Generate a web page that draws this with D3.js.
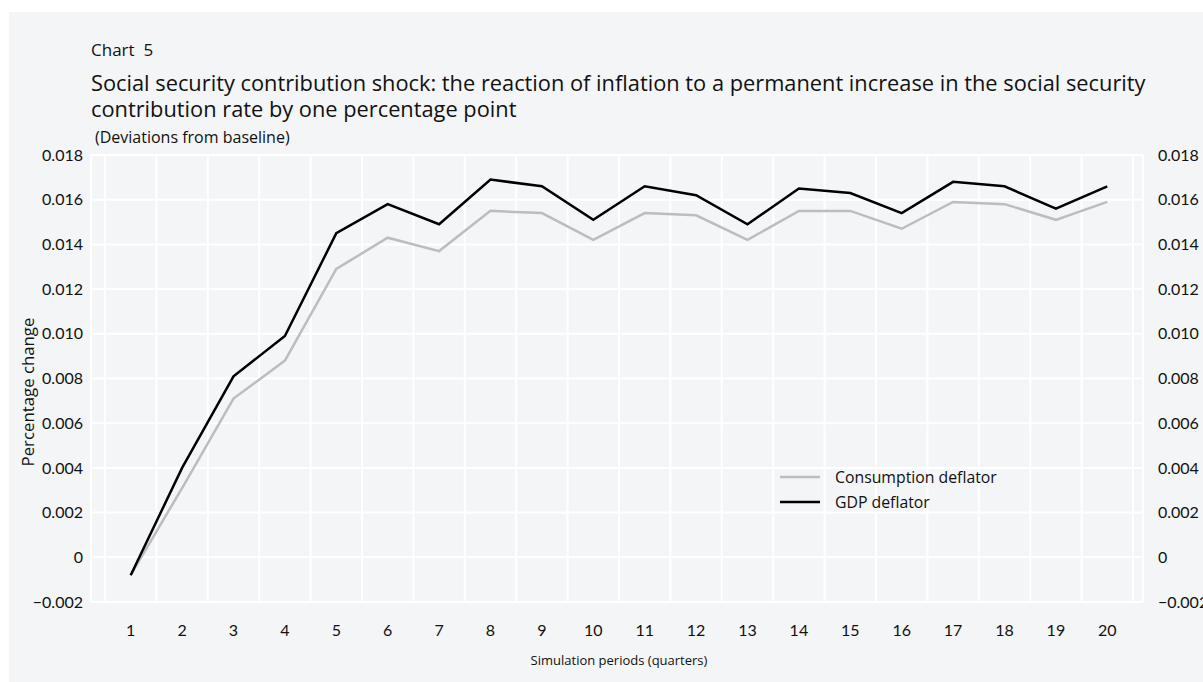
<!DOCTYPE html>
<html>
<head>
<meta charset="utf-8">
<script src="https://cdn.jsdelivr.net/npm/d3@7"></script>
<style>
  body { margin: 0; background: #fff; }
  svg text { font-family: "Open Sans", Lato, sans-serif; fill: #111; font-variant-ligatures: none; }
  svg text.num { font-family: Lato, "Open Sans", sans-serif; }
</style>
</head>
<body>
<svg id="chart" width="1203" height="682"></svg>
<script>
// periods on the x axis
var periods = d3.range(1, 21);
// values
var consumption = [-0.0008, 0.0031, 0.0071, 0.0088, 0.0129, 0.0143, 0.0137, 0.0155, 0.0154, 0.0142,
                   0.0154, 0.0153, 0.0142, 0.0155, 0.0155, 0.0147, 0.0159, 0.0158, 0.0151, 0.0159];
var gdp = [-0.0008, 0.0040, 0.0081, 0.0099, 0.0145, 0.0158, 0.0149, 0.0169, 0.0166, 0.0151,
           0.0166, 0.0162, 0.0149, 0.0165, 0.0163, 0.0154, 0.0168, 0.0166, 0.0156, 0.0166];
var yTicks = [-0.002, 0, 0.002, 0.004, 0.006, 0.008, 0.010, 0.012, 0.014, 0.016, 0.018];
var series = [
    { name: 'Consumption deflator', values: consumption, color: '#bdbdbd' },
    { name: 'GDP deflator', values: gdp, color: '#000' }
];

var svg = d3.select('#chart');

// background panel
svg.append('rect')
    .attr('x', 9).attr('y', 12)
    .attr('width', 1203 - 9).attr('height', 682 - 12)
    .attr('fill', '#f4f5f7');

var plot = { left: 91, right: 1143, top: 155, bottom: 602 };

var x = d3.scaleBand()
    .domain(periods)
    .range([105, 1133]);

var y = d3.scaleLinear()
    .domain([-0.002, 0.018])
    .range([plot.bottom, plot.top]);

var tickFmt = function (d) {
    if (d === 0) return '0';
    return d3.format('.3f')(d).replace('-', '\u2212');
};

// grid
var grid = svg.append('g').attr('stroke', '#fff').attr('stroke-width', 2);
grid.selectAll('line.h')
    .data(yTicks)
    .enter().append('line')
    .attr('x1', plot.left).attr('x2', plot.right)
    .attr('y1', function (d) { return y(d); })
    .attr('y2', function (d) { return y(d); });

var vlines = [plot.left].concat(periods.map(function (p) { return x(p); }), [x(20) + x.bandwidth(), plot.right]);
grid.selectAll('line.v')
    .data(vlines)
    .enter().append('line')
    .attr('x1', function (d) { return d; }).attr('x2', function (d) { return d; })
    .attr('y1', plot.top).attr('y2', plot.bottom);

// y labels, left and right
var yl = svg.append('g').attr('font-size', 16);
yl.selectAll('text.l')
    .data(yTicks)
    .enter().append('text')
    .attr('class', 'num')
    .attr('x', 83)
    .attr('y', function (d) { return y(d); })
    .attr('dy', '0.35em')
    .attr('text-anchor', 'end')
    .text(tickFmt);
yl.selectAll('text.r')
    .data(yTicks)
    .enter().append('text')
    .attr('class', 'num')
    .attr('x', 1158)
    .attr('y', function (d) { return y(d); })
    .attr('dy', '0.35em')
    .text(tickFmt);

// x labels
svg.append('g').attr('font-size', 16)
    .selectAll('text')
    .data(periods)
    .enter().append('text')
    .attr('class', 'num')
    .attr('x', function (d) { return x(d) + x.bandwidth() / 2; })
    .attr('y', 636)
    .attr('text-anchor', 'middle')
    .text(function (d) { return d; });

// lines
var line = d3.line()
    .x(function (d, i) { return x(periods[i]) + x.bandwidth() / 2; })
    .y(function (d) { return y(d); });

svg.selectAll('path.series')
    .data(series)
    .enter().append('path')
    .attr('fill', 'none')
    .attr('stroke', function (d) { return d.color; })
    .attr('stroke-width', 2.5)
    .attr('stroke-linejoin', 'miter')
    .attr('d', function (d) { return line(d.values); });

// legend
var lg = svg.append('g').attr('transform', 'translate(780,477)');
lg.selectAll('line')
    .data(series)
    .enter().append('line')
    .attr('x1', 0).attr('x2', 40)
    .attr('y1', function (d, i) { return i * 25; })
    .attr('y2', function (d, i) { return i * 25; })
    .attr('stroke', function (d) { return d.color; })
    .attr('stroke-width', 2.5);
lg.selectAll('text')
    .data(series)
    .enter().append('text')
    .attr('x', 55)
    .attr('y', function (d, i) { return i * 25; })
    .attr('dy', '0.35em')
    .attr('font-size', 15.8)
    .text(function (d) { return d.name; });

// titles
svg.append('text').attr('x', 91).attr('y', 56).attr('font-size', 17).attr('xml:space', 'preserve').text('Chart  5');
svg.append('text').attr('x', 91).attr('y', 91).attr('font-size', 21.8)
    .text('Social security contribution shock: the reaction of inflation to a permanent increase in the social security');
svg.append('text').attr('x', 91).attr('y', 117).attr('font-size', 21.8)
    .text('contribution rate by one percentage point');
svg.append('text').attr('x', 95).attr('y', 143).attr('font-size', 16).text('(Deviations from baseline)');

svg.append('text')
    .attr('transform', 'translate(34,392) rotate(-90)')
    .attr('text-anchor', 'middle')
    .attr('font-size', 16.8)
    .text('Percentage change');
svg.append('text')
    .attr('x', 619).attr('y', 665)
    .attr('text-anchor', 'middle')
    .attr('font-size', 13)
    .text('Simulation periods (quarters)');
</script>
</body>
</html>
